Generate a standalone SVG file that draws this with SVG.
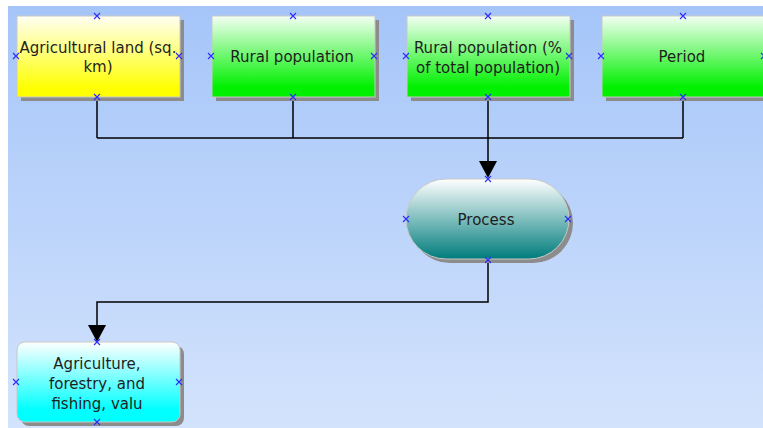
<svg xmlns="http://www.w3.org/2000/svg" width="763" height="428" viewBox="0 0 763 428">
<defs>
<linearGradient id="bg" x1="0" y1="0" x2="0" y2="1"><stop offset="0" stop-color="#a5c5f9"/><stop offset="1" stop-color="#d3e3fc"/></linearGradient>
<linearGradient id="gy" x1="0" y1="0" x2="0" y2="1"><stop offset="0" stop-color="#fffff4"/><stop offset="0.9" stop-color="#ffff00"/></linearGradient>
<linearGradient id="gg" x1="0" y1="0" x2="0" y2="1"><stop offset="0" stop-color="#f4fff4"/><stop offset="0.88" stop-color="#00f000"/></linearGradient>
<linearGradient id="gt" x1="0" y1="0" x2="0" y2="1"><stop offset="0" stop-color="#ffffff"/><stop offset="1" stop-color="#007c7c"/></linearGradient>
<linearGradient id="gc" x1="0" y1="0" x2="0" y2="1"><stop offset="0" stop-color="#ffffff"/><stop offset="0.85" stop-color="#00ffff"/></linearGradient>
<g id="x"><path d="M-3,-3L3,3M-3,3L3,-3" stroke="#2b2bff" stroke-width="1.1" fill="none"/></g>
</defs>
<style>
.sh{fill:#8c8c8c}
.bx{stroke:#c8c8c8;stroke-width:1}
.t{font-family:"DejaVu Sans",Verdana,sans-serif;font-size:15px;fill:#1e1e1e;text-anchor:middle}
.c{stroke:#000;stroke-width:1.5;fill:none}
.ah{fill:#000}
</style>
<rect width="763" height="428" fill="#ffffff"/>
<rect x="8" y="6" width="755" height="422" fill="url(#bg)"/>
<g id="connectors">
<path class="c" d="M97,97V138M293,97V138M683,97V138M488,97V170M97,138H683"/>
<path class="ah" d="M479,161H497L488,178Z"/>
<path class="c" d="M488,260V302H97V332"/>
<path class="ah" d="M88,325H106L97,342Z"/>
</g>
<g id="n1">
<rect class="sh" x="21" y="20" width="163" height="81"/>
<rect class="bx" x="17" y="16" width="163" height="81" fill="url(#gy)"/>
<text class="t" x="98" y="53">Agricultural land (sq.</text>
<text class="t" x="98" y="72">km)</text>
<use href="#x" x="97" y="16"/><use href="#x" x="16" y="56"/><use href="#x" x="179" y="56"/><use href="#x" x="97" y="97"/>
</g>
<g id="n2">
<rect class="sh" x="216" y="20" width="163" height="81"/>
<rect class="bx" x="212" y="16" width="163" height="81" fill="url(#gg)"/>
<text class="t" x="292" y="62">Rural population</text>
<use href="#x" x="293" y="16"/><use href="#x" x="211" y="56"/><use href="#x" x="374" y="56"/><use href="#x" x="293" y="97"/>
</g>
<g id="n3">
<rect class="sh" x="411" y="20" width="163" height="81"/>
<rect class="bx" x="407" y="16" width="163" height="81" fill="url(#gg)"/>
<text class="t" x="488" y="53">Rural population (%</text>
<text class="t" x="488" y="73">of total population)</text>
<use href="#x" x="488" y="16"/><use href="#x" x="406" y="56"/><use href="#x" x="569" y="56"/><use href="#x" x="488" y="97"/>
</g>
<g id="n4">
<rect class="sh" x="606" y="20" width="163" height="81"/>
<rect class="bx" x="602" y="16" width="163" height="81" fill="url(#gg)"/>
<text class="t" x="682" y="62">Period</text>
<use href="#x" x="683" y="16"/><use href="#x" x="601" y="56"/><use href="#x" x="764" y="56"/><use href="#x" x="683" y="97"/>
</g>
<g id="n5">
<rect class="sh" x="410" y="183" width="163" height="80" rx="40" ry="40"/>
<rect class="bx" x="406" y="179" width="163" height="80" rx="40" ry="40" fill="url(#gt)"/>
<text class="t" x="486" y="225">Process</text>
<use href="#x" x="488" y="179"/><use href="#x" x="406" y="219"/><use href="#x" x="568" y="219"/><use href="#x" x="488" y="260"/>
</g>
<g id="n6">
<rect class="sh" x="21" y="346" width="163" height="80" rx="8" ry="8"/>
<rect class="bx" x="17" y="342" width="163" height="80" rx="8" ry="8" fill="url(#gc)"/>
<text class="t" x="97" y="369">Agriculture,</text>
<text class="t" x="97" y="389">forestry, and</text>
<text class="t" x="97" y="409">fishing, valu</text>
<use href="#x" x="97" y="342"/><use href="#x" x="16" y="382"/><use href="#x" x="179" y="382"/><use href="#x" x="97" y="422"/>
</g>
</svg>
